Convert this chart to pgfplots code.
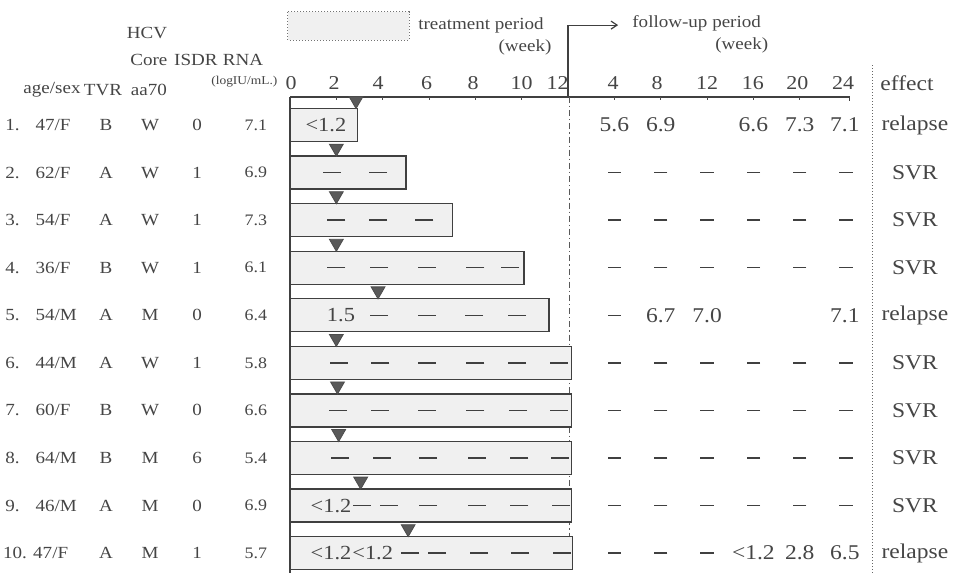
\documentclass[border=0pt]{standalone}
\usepackage{pgfplots}
\pgfplotsset{compat=1.18}
\usepackage{fontspec}
\setmainfont{Liberation Serif}[FakeStretch=1.12]
\usetikzlibrary{arrows.meta}
\definecolor{ink}{gray}{0.27}
\newcommand{\fs}[1]{\fontsize{#1}{#1}\selectfont}
\pgfplotsset{
  txt/.style={draw=none, mark=none, nodes near coords, point meta=explicit symbolic,
    nodes near coords style={anchor=center, inner sep=0pt, text=ink, font=\fs{#1}}},
}
\begin{document}
\begin{tikzpicture}
\begin{axis}[hide axis, scale only axis, width=478.5pt, height=287pt,
  xmin=-12.516, xmax=28.787, ymin=-1.628, ymax=10.44, y dir=reverse, clip=false]

% legend box of treatment period
\draw[black!55, densely dotted, line width=0.5pt, fill=black!6] (axis cs:-0.09,-1.376) rectangle (axis cs:5.14,-0.787);
\node[anchor=west, inner sep=0pt, text=ink, font=\fs{8.5}] at (axis cs:5.52,-1.10) {treatment period};
\node[inner sep=0pt, text=ink, font=\fs{8.5}] at (axis cs:10.14,-0.64) {(week)};
\node[anchor=west, inner sep=0pt, text=ink, font=\fs{8.5}] at (axis cs:14.76,-1.145) {follow-up period};
\node[inner sep=0pt, text=ink, font=\fs{8.5}] at (axis cs:19.5,-0.68) {(week)};

% follow-up arrow
\draw[black!75, line width=0.6pt, -{Straight Barb[length=3pt,width=4pt]}] (axis cs:12.0,0.41) -- (axis cs:12.0,-1.10) -- (axis cs:14.16,-1.10);

% time axis
\draw[black!75, line width=0.7pt] (axis cs:0,0.41) -- (axis cs:24.15,0.41) -- (axis cs:24.15,0.50);
\pgfplotsinvokeforeach{2,4,6,8,10,14,16,18,20,22}{\draw[black!70, line width=0.5pt] (axis cs:#1,0.41) -- (axis cs:#1,0.48);}
\draw[black!75, line width=0.65pt] (axis cs:0,0.41) -- (axis cs:0,10.42);
\draw[black!65, line width=0.5pt, dash pattern=on 3pt off 1.5pt on 0.6pt off 1.5pt] (axis cs:12.05,0.41) -- (axis cs:12.05,10.35);

% effect separator
\draw[black!60, line width=0.5pt, densely dotted] (axis cs:25.12,-0.26) -- (axis cs:25.12,10.44);

% tick labels
\addplot[txt=9.8] coordinates {(0.05,0.117)[0] (1.9,0.117)[2] (3.8,0.117)[4] (5.9,0.117)[6] (7.9,0.117)[8] (10.0,0.117)[10] (11.55,0.117)[12]};
\addplot[txt=9.8] coordinates {(13.94,0.117)[4] (15.84,0.117)[8] (18.0,0.117)[12] (19.98,0.117)[16] (21.9,0.117)[20] (23.87,0.117)[24]};
\node[inner sep=0pt, text=ink, font=\fs{10.5}] at (axis cs:26.63,0.117) {effect};

% headers
\node[inner sep=0pt, text=ink, font=\fs{8.5}] at (axis cs:-6.17,-0.934) {HCV};
\node[inner sep=0pt, text=ink, font=\fs{8.5}] at (axis cs:-6.09,-0.367) {Core};
\node[inner sep=0pt, text=ink, font=\fs{8.5}] at (axis cs:-4.06,-0.367) {ISDR};
\node[inner sep=0pt, text=ink, font=\fs{8.5}] at (axis cs:-2.03,-0.367) {RNA};
\node[inner sep=0pt, text=ink, font=\fs{6}] at (axis cs:-1.97,0.096) {(logIU/mL.)};
\node[inner sep=0pt, text=ink, font=\fs{8.5}] at (axis cs:-10.27,0.264) {age/sex};
\node[inner sep=0pt, text=ink, font=\fs{8.5}] at (axis cs:-8.07,0.264) {TVR};
\node[inner sep=0pt, text=ink, font=\fs{8.5}] at (axis cs:-6.09,0.264) {aa70};

% treatment bars
\addplot[xbar, bar width=16.5pt, draw=black!75, line width=0.65pt, fill=black!6] coordinates {
 (2.9,1) (5.0,2) (7.0,3) (10.1,4) (11.18,5) (12.15,6) (12.15,7) (12.15,8) (12.15,9) (12.2,10)};

% week when RNA became negative
\addplot[only marks, mark=triangle*, mark size=4pt, mark options={rotate=180, fill=black!65, draw=black!70}] coordinates {
 (2.85,0.487) (2.0,1.487) (2.0,2.487) (2.0,3.487) (3.8,4.487) (2.0,5.487) (2.05,6.487) (2.1,7.487) (3.05,8.487) (5.1,9.487)};

% negative results during treatment
\addplot[only marks, mark=-, mark size=4.5pt, mark options={line width=0.7pt, draw=black!75}] coordinates {
 (1.8,2) (3.8,2)
 (2.0,3) (3.8,3) (5.8,3)
 (2.0,4) (3.85,4) (5.9,4) (8.0,4) (9.5,4)
 (3.85,5) (5.9,5) (7.95,5) (9.8,5)
 (2.1,6) (3.9,6) (5.9,6) (8.0,6) (9.8,6) (11.6,6)
 (2.07,7) (3.88,7) (5.9,7) (8.0,7) (9.85,7) (11.6,7)
 (2.16,8) (3.97,8) (5.96,8) (8.07,8) (9.9,8) (11.65,8)
 (3.1,9) (4.27,9) (5.96,9) (8.07,9) (9.9,9) (11.7,9)
 (5.18,10) (6.35,10) (8.16,10) (9.93,10) (11.74,10)};
% values during treatment
\addplot[txt=10] coordinates {(1.55,1)[<1.2] (2.2,5)[1.5] (1.77,9)[<1.2] (1.77,10)[<1.2] (3.57,10)[<1.2]};

% follow-up: negative results
\addplot[only marks, mark=-, mark size=3.3pt, mark options={line width=0.7pt, draw=black!75}] coordinates {
 (14,2) (16,2) (18,2) (20,2) (22,2) (24,2)
 (14,3) (16,3) (18,3) (20,3) (22,3) (24,3)
 (14,4) (16,4) (18,4) (20,4) (22,4) (24,4)
 (14,5)
 (14,6) (16,6) (18,6) (20,6) (22,6) (24,6)
 (14,7) (16,7) (18,7) (20,7) (22,7) (24,7)
 (14,8) (16,8) (18,8) (20,8) (22,8) (24,8)
 (14,9) (16,9) (18,9) (20,9) (22,9) (24,9)
 (14,10) (16,10) (18,10)};
% follow-up: values
\addplot[txt=10.5] coordinates {
 (14,1)[5.6] (16,1)[6.9] (20,1)[6.6] (22,1)[7.3] (23.95,1)[7.1]
 (16,5)[6.7] (18,5)[7.0] (23.95,5)[7.1]
 (20,10)[<1.2] (22,10)[2.8] (23.95,10)[6.5]};

% effect
\addplot[txt=10.5] coordinates {
 (26.97,1)[relapse] (26.97,2)[SVR] (26.97,3)[SVR] (26.97,4)[SVR] (26.97,5)[relapse]
 (26.97,6)[SVR] (26.97,7)[SVR] (26.97,8)[SVR] (26.97,9)[SVR] (26.97,10)[relapse]};

% patient columns
\addplot[txt=8.5, nodes near coords style={anchor=west}] coordinates {
 (-12.30,1)[1.] (-12.30,2)[2.] (-12.30,3)[3.] (-12.30,4)[4.] (-12.30,5)[5.]
 (-12.30,6)[6.] (-12.30,7)[7.] (-12.30,8)[8.] (-12.30,9)[9.] (-12.40,10)[10.]};
\addplot[txt=8.5, nodes near coords style={anchor=west}] coordinates {
 (-11.0,1)[47/F] (-11.0,2)[62/F] (-11.0,3)[54/F] (-11.0,4)[36/F] (-11.0,5)[54/M]
 (-11.0,6)[44/M] (-11.0,7)[60/F] (-11.0,8)[64/M] (-11.0,9)[46/M] (-11.1,10)[47/F]};
\addplot[txt=8.5] coordinates {
 (-7.94,1)[B] (-7.94,2)[A] (-7.94,3)[A] (-7.94,4)[B] (-7.94,5)[A]
 (-7.94,6)[A] (-7.94,7)[B] (-7.94,8)[B] (-7.94,9)[A] (-7.94,10)[A]};
\addplot[txt=8.5] coordinates {
 (-6.04,1)[W] (-6.04,2)[W] (-6.04,3)[W] (-6.04,4)[W] (-6.04,5)[M]
 (-6.04,6)[W] (-6.04,7)[W] (-6.04,8)[M] (-6.04,9)[M] (-6.04,10)[M]};
\addplot[txt=8.5] coordinates {
 (-4.01,1)[0] (-4.01,2)[1] (-4.01,3)[1] (-4.01,4)[1] (-4.01,5)[0]
 (-4.01,6)[1] (-4.01,7)[0] (-4.01,8)[6] (-4.01,9)[0] (-4.01,10)[1]};
\addplot[txt=8] coordinates {
 (-1.47,1)[7.1] (-1.47,2)[6.9] (-1.47,3)[7.3] (-1.47,4)[6.1] (-1.47,5)[6.4]
 (-1.47,6)[5.8] (-1.47,7)[6.6] (-1.47,8)[5.4] (-1.47,9)[6.9] (-1.47,10)[5.7]};
\end{axis}
\pgfresetboundingbox
\useasboundingbox (current axis.south west) rectangle (current axis.north east);
\end{tikzpicture}
\end{document}
